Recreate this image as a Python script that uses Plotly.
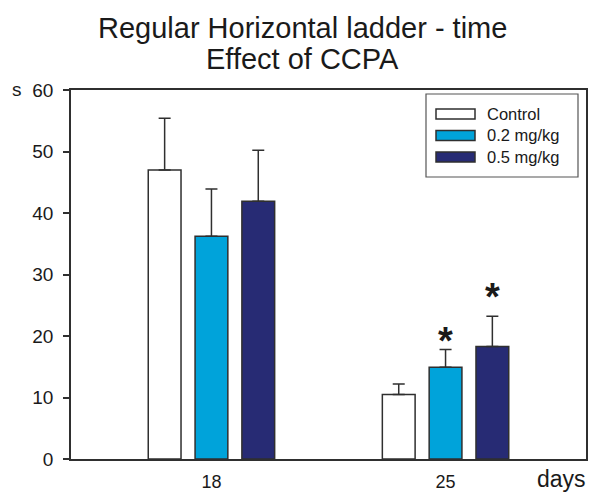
import plotly.graph_objects as go

# ---- data ----
days = ["18", "25"]
series_names = ["Control", "0.2 mg/kg", "0.5 mg/kg"]
series_colors = ["#FFFFFF", "#00A3DA", "#272B74"]
means = {
    "Control": [47.0, 10.5],
    "0.2 mg/kg": [36.2, 14.9],
    "0.5 mg/kg": [41.9, 18.3],
}
sems = {
    "Control": [8.4, 1.7],
    "0.2 mg/kg": [7.7, 2.9],
    "0.5 mg/kg": [8.3, 4.9],
}
# significance markers: (series, day index, height of star in s)
sig_marks = [("0.2 mg/kg", 1, 20.4), ("0.5 mg/kg", 1, 27.5)]
y_ticks = [0, 10, 20, 30, 40, 50, 60]

FONT = "Liberation Sans, Arial, sans-serif"
LINE = "#2f2f2f"
TXT = "#1a1a1a"

W, H = 591, 493
ML, MR, MT, MB = 71, 5, 90, 34
PW, PH = W - ML - MR, H - MT - MB


def xp(px):
    return (px - ML) / PW


def yp(py):
    return (H - MB - py) / PH


xpos = list(range(len(days)))
fig = go.Figure()
for name, col in zip(series_names, series_colors):
    fig.add_trace(go.Bar(
        x=xpos, y=means[name], name=name,
        marker=dict(color=col, line=dict(color=LINE, width=1.5)),
        error_y=dict(type="data", array=sems[name], arrayminus=[0] * len(days),
                     symmetric=False, color=LINE, thickness=1.5, width=6),
        showlegend=False,
    ))

# star annotations (placed over the bar of the group)
slot = 0.2
for name, di, h in sig_marks:
    k = series_names.index(name)
    fig.add_annotation(x=xpos[di] + (k - 1) * slot, y=h, xref="x", yref="y",
                       text="<b>*</b>", showarrow=False, yanchor="middle", yshift=-7,
                       font=dict(family=FONT, size=38, color=TXT))

# titles
fig.add_annotation(x=xp(302.5), y=yp(28), xref="paper", yref="paper",
                   text="Regular Horizontal ladder - time", showarrow=False,
                   xanchor="center", yanchor="middle",
                   font=dict(family=FONT, size=29, color=TXT))
fig.add_annotation(x=xp(302.5), y=yp(59), xref="paper", yref="paper",
                   text="Effect of CCPA", showarrow=False,
                   xanchor="center", yanchor="middle",
                   font=dict(family=FONT, size=29, color=TXT))
# axis unit labels
fig.add_annotation(x=xp(16.5), y=yp(89), xref="paper", yref="paper", text="s",
                   showarrow=False, xanchor="center", yanchor="middle",
                   font=dict(family=FONT, size=19, color=TXT))
fig.add_annotation(x=xp(561), y=yp(479), xref="paper", yref="paper", text="days",
                   showarrow=False, xanchor="center", yanchor="middle",
                   font=dict(family=FONT, size=23, color=TXT))

# custom legend
shapes = [dict(type="rect", xref="paper", yref="paper",
               x0=xp(426), x1=xp(578), y0=yp(177), y1=yp(94),
               line=dict(color="#555", width=1.2), fillcolor="rgba(0,0,0,0)")]
row_y = [114, 135.5, 157]
for name, col, ry in zip(series_names, series_colors, row_y):
    shapes.append(dict(type="rect", xref="paper", yref="paper",
                       x0=xp(436), x1=xp(475), y0=yp(ry + 5), y1=yp(ry - 5),
                       line=dict(color=LINE, width=1.5), fillcolor=col))
    fig.add_annotation(x=xp(485), y=yp(ry), xref="paper", yref="paper", text=name,
                       showarrow=False, xanchor="left", yanchor="middle",
                       font=dict(family=FONT, size=16.5, color=TXT))

fig.update_layout(
    width=W, height=H,
    margin=dict(l=ML, r=MR, t=MT, b=MB, pad=0, autoexpand=False),
    paper_bgcolor="white", plot_bgcolor="white",
    barmode="group", bargap=0.4, bargroupgap=0.3,
    shapes=shapes,
    font=dict(family=FONT, color=TXT),
)
fig.update_xaxes(range=[-0.6, 1.6], tickmode="array", tickvals=xpos, ticktext=days,
                 showline=True, mirror=True, linecolor=LINE, linewidth=1.5,
                 ticks="", showgrid=False, zeroline=False, automargin=False,
                 tickfont=dict(family=FONT, size=18, color=TXT), ticklabelstandoff=6)
fig.update_yaxes(range=[0, 60], tickmode="array", tickvals=y_ticks,
                 showline=True, mirror=True, linecolor=LINE, linewidth=1.5,
                 ticks="outside", ticklen=6, tickwidth=1.5, tickcolor=LINE,
                 showgrid=False, zeroline=False, automargin=False,
                 tickfont=dict(family=FONT, size=19, color=TXT), ticklabelstandoff=6)

fig.write_html("out.html")
